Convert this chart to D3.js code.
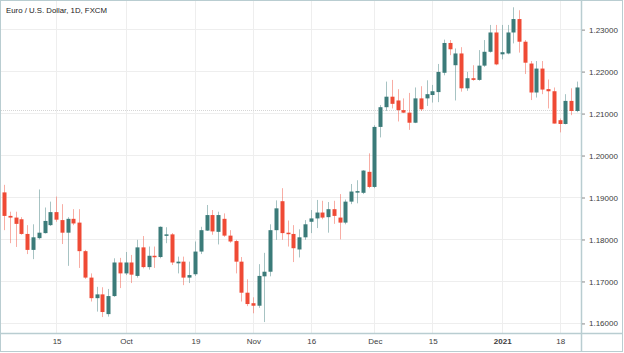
<!DOCTYPE html>
<html>
<head>
<meta charset="utf-8">
<script src="https://cdn.jsdelivr.net/npm/d3@7"></script>
<style>
  body { margin: 0; background: #fff; }
  svg { display: block; font-family: "Liberation Sans", Arial, sans-serif; }
  .axis text { fill: #3c3c3c; font-size: 8px; }
  .axis .domain { display: none; }
</style>
</head>
<body>
<div id="chart"></div>
<script>
// data: EUR/USD daily candles (FXCM)
const dates = [
  '2020-09-02', '2020-09-03', '2020-09-04', '2020-09-07', '2020-09-08', '2020-09-09', '2020-09-10', '2020-09-11',
  '2020-09-14', '2020-09-15', '2020-09-16', '2020-09-17', '2020-09-18', '2020-09-21', '2020-09-22', '2020-09-23',
  '2020-09-24', '2020-09-25', '2020-09-28', '2020-09-29', '2020-09-30',
  '2020-10-01', '2020-10-02', '2020-10-05', '2020-10-06', '2020-10-07', '2020-10-08', '2020-10-09', '2020-10-12',
  '2020-10-13', '2020-10-14', '2020-10-15', '2020-10-16', '2020-10-19', '2020-10-20', '2020-10-21', '2020-10-22',
  '2020-10-23', '2020-10-26', '2020-10-27', '2020-10-28', '2020-10-29', '2020-10-30',
  '2020-11-02', '2020-11-03', '2020-11-04', '2020-11-05', '2020-11-06', '2020-11-09', '2020-11-10', '2020-11-11',
  '2020-11-12', '2020-11-13', '2020-11-16', '2020-11-17', '2020-11-18', '2020-11-19', '2020-11-20', '2020-11-23',
  '2020-11-24', '2020-11-25', '2020-11-26', '2020-11-27', '2020-11-30',
  '2020-12-01', '2020-12-02', '2020-12-03', '2020-12-04', '2020-12-07', '2020-12-08', '2020-12-09', '2020-12-10',
  '2020-12-11', '2020-12-14', '2020-12-15', '2020-12-16', '2020-12-17', '2020-12-18', '2020-12-21', '2020-12-22',
  '2020-12-23', '2020-12-24', '2020-12-28', '2020-12-29', '2020-12-30', '2020-12-31',
  '2021-01-04', '2021-01-05', '2021-01-06', '2021-01-07', '2021-01-08', '2021-01-11', '2021-01-12', '2021-01-13',
  '2021-01-14', '2021-01-15', '2021-01-18', '2021-01-19', '2021-01-20', '2021-01-21'
];

const open = [
  1.1911, 1.1855, 1.1851, 1.1847, 1.1812, 1.1774, 1.1802, 1.1814, 1.1833, 1.1864, 1.1845, 1.1815, 1.1848, 1.1839,
  1.1771, 1.1708, 1.1659, 1.1668, 1.1621, 1.1664, 1.1744,
  1.1718, 1.1744, 1.1712, 1.1780, 1.1733, 1.1760, 1.1757, 1.1808, 1.1811, 1.1742, 1.1746, 1.1708, 1.1716, 1.1770,
  1.1820, 1.1857, 1.1817, 1.1848, 1.1808, 1.1795, 1.1746, 1.1672,
  1.1647, 1.1641, 1.1711, 1.1722, 1.1821, 1.1890, 1.1815, 1.1812, 1.1775, 1.1804, 1.1841, 1.1849, 1.1863, 1.1852,
  1.1871, 1.1851, 1.1839, 1.1889, 1.1911, 1.1910, 1.1960,
  1.1924, 1.2067, 1.2114, 1.2139, 1.2130, 1.2107, 1.2101, 1.2077, 1.2135, 1.2135, 1.2143, 1.2150, 1.2196, 1.2267,
  1.2214, 1.2242, 1.2159, 1.2183, 1.2179, 1.2213, 1.2246, 1.2292,
  1.2240, 1.2242, 1.2292, 1.2324, 1.2270, 1.2218, 1.2149, 1.2206, 1.2157, 1.2152, 1.2083, 1.2074, 1.2129, 1.2105
];

const high = [
  1.1929, 1.1865, 1.1865, 1.1852, 1.1833, 1.1835, 1.1918, 1.1875, 1.1889, 1.1901, 1.1883, 1.1852, 1.1871, 1.1871,
  1.1774, 1.1718, 1.1686, 1.1685, 1.1681, 1.1754, 1.1755,
  1.1769, 1.1762, 1.1798, 1.1807, 1.1782, 1.1782, 1.1830, 1.1828, 1.1814, 1.1758, 1.1758, 1.1746, 1.1794, 1.1829,
  1.1881, 1.1869, 1.1865, 1.1861, 1.1821, 1.1798, 1.1757, 1.1704,
  1.1661, 1.1740, 1.1767, 1.1835, 1.1892, 1.1921, 1.1844, 1.1833, 1.1823, 1.1845, 1.1869, 1.1893, 1.1891, 1.1888,
  1.1891, 1.1907, 1.1894, 1.1931, 1.1940, 1.1964, 1.2004,
  1.2071, 1.2119, 1.2175, 1.2179, 1.2157, 1.2135, 1.2148, 1.2161, 1.2164, 1.2178, 1.2167, 1.2217, 1.2275, 1.2274,
  1.2254, 1.2257, 1.2198, 1.2214, 1.2250, 1.2274, 1.2310, 1.2310,
  1.2310, 1.2310, 1.2352, 1.2345, 1.2274, 1.2224, 1.2224, 1.2224, 1.2180, 1.2161, 1.2087, 1.2145, 1.2159, 1.2175
];

const low = [
  1.1821, 1.1790, 1.1781, 1.1810, 1.1764, 1.1752, 1.1799, 1.1813, 1.1831, 1.1841, 1.1788, 1.1736, 1.1833, 1.1731,
  1.1705, 1.1651, 1.1627, 1.1614, 1.1615, 1.1662, 1.1683,
  1.1714, 1.1695, 1.1708, 1.1730, 1.1727, 1.1731, 1.1754, 1.1790, 1.1738, 1.1718, 1.1690, 1.1695, 1.1712, 1.1764,
  1.1819, 1.1810, 1.1787, 1.1805, 1.1791, 1.1718, 1.1651, 1.1640,
  1.1623, 1.1636, 1.1602, 1.1711, 1.1798, 1.1798, 1.1782, 1.1745, 1.1756, 1.1798, 1.1814, 1.1826, 1.1847, 1.1815,
  1.1836, 1.1799, 1.1835, 1.1883, 1.1885, 1.1907, 1.1921,
  1.1921, 1.2042, 1.2105, 1.2111, 1.2080, 1.2100, 1.2060, 1.2076, 1.2105, 1.2117, 1.2125, 1.2126, 1.2190, 1.2238,
  1.2130, 1.2151, 1.2153, 1.2177, 1.2177, 1.2210, 1.2244, 1.2214,
  1.2228, 1.2240, 1.2266, 1.2244, 1.2193, 1.2131, 1.2137, 1.2145, 1.2111, 1.2075, 1.2054, 1.2073, 1.2095, 1.2102
];

const close = [
  1.1855, 1.1851, 1.1836, 1.1812, 1.1774, 1.1804, 1.1815, 1.1843, 1.1864, 1.1846, 1.1815, 1.1848, 1.1837, 1.1771,
  1.1708, 1.1659, 1.1668, 1.1626, 1.1664, 1.1744, 1.1718,
  1.1744, 1.1715, 1.1780, 1.1733, 1.1760, 1.1757, 1.1829, 1.1811, 1.1744, 1.1746, 1.1708, 1.1714, 1.1770, 1.1821,
  1.1857, 1.1818, 1.1857, 1.1808, 1.1794, 1.1746, 1.1672, 1.1645,
  1.1641, 1.1712, 1.1722, 1.1821, 1.1873, 1.1814, 1.1812, 1.1778, 1.1804, 1.1835, 1.1849, 1.1863, 1.1851, 1.1871,
  1.1855, 1.1839, 1.1889, 1.1913, 1.1914, 1.1963, 1.1924,
  1.2067, 1.2114, 1.2139, 1.2122, 1.2107, 1.2101, 1.2077, 1.2135, 1.2109, 1.2145, 1.2152, 1.2198, 1.2267, 1.2252,
  1.2242, 1.2159, 1.2183, 1.2179, 1.2213, 1.2246, 1.2292, 1.2216,
  1.2245, 1.2292, 1.2324, 1.2270, 1.2220, 1.2149, 1.2206, 1.2156, 1.2152, 1.2075, 1.2074, 1.2129, 1.2105, 1.2161
];

const priceTicks = [1.16, 1.17, 1.18, 1.19, 1.20, 1.21, 1.22, 1.23];
const timeTickDates = ['2020-09-15', '2020-10-01', '2020-10-19', '2020-11-02', '2020-11-16', '2020-12-01', '2020-12-15', '2021-01-04', '2021-01-18'];
const timeTickLabels = ['15', 'Oct', '19', 'Nov', '16', 'Dec', '15', '2021', '18'];
const title = 'Euro / U.S. Dollar, 1D, FXCM';
const prevCloseLevel = 1.2107;

// layout
const w = 624, h = 353;
const plot = { left: 1, top: 1, right: 581, bottom: 333 };
const colors = { up: '#3b7b79', down: '#ef4a35', grid: '#eeeeee', frame: '#b9cdd1' };

const candles = dates.map((d, i) => ({
  date: d, o: open[i], h: high[i], l: low[i], c: close[i]
}));

const svg = d3.select('#chart').append('svg')
  .attr('width', w)
  .attr('height', h);

const x = d3.scalePoint()
  .domain(dates)
  .range([4, 577]);

const y = d3.scaleLinear()
  .domain([1.1576, 1.2367])
  .range([plot.bottom, plot.top]);

const px = d => Math.round(x(d));

// grid
const grid = svg.append('g').attr('class', 'grid');
grid.selectAll('.hgrid')
  .data(priceTicks)
  .enter()
  .append('line')
  .attr('x1', plot.left)
  .attr('x2', plot.right)
  .attr('y1', d => Math.round(y(d)) + 0.5)
  .attr('y2', d => Math.round(y(d)) + 0.5)
  .style('stroke', colors.grid);

grid.selectAll('.vgrid')
  .data(timeTickDates)
  .enter()
  .append('line')
  .attr('x1', d => px(d) + 0.5)
  .attr('x2', d => px(d) + 0.5)
  .attr('y1', plot.top)
  .attr('y2', plot.bottom)
  .style('stroke', colors.grid);

// previous close marker line (dotted, faint)
svg.append('line')
  .attr('x1', plot.left)
  .attr('x2', plot.right)
  .attr('y1', Math.round(y(prevCloseLevel)) + 0.5)
  .attr('y2', Math.round(y(prevCloseLevel)) + 0.5)
  .style('stroke', '#d6d6d6')
  .style('stroke-dasharray', '1,1');

// candles
const series = svg.append('g').attr('class', 'candles');
const candle = series.selectAll('.candle')
  .data(candles)
  .enter()
  .append('g')
  .attr('class', 'candle');

candle.append('line')
  .attr('x1', d => px(d.date) + 0.5)
  .attr('x2', d => px(d.date) + 0.5)
  .attr('y1', d => y(d.h))
  .attr('y2', d => y(d.l))
  .style('stroke', d => d.c >= d.o ? colors.up : colors.down)
  .style('stroke-opacity', 0.45);

candle.append('rect')
  .attr('x', d => px(d.date) - 1.5)
  .attr('width', 4)
  .attr('y', d => y(Math.max(d.o, d.c)))
  .attr('height', d => Math.max(1.5, Math.abs(y(d.o) - y(d.c))))
  .style('fill', d => d.c >= d.o ? colors.up : colors.down);

// frame and axis lines
svg.append('rect')
  .attr('x', 0.5)
  .attr('y', 0.5)
  .attr('width', w - 2)
  .attr('height', h - 2)
  .style('fill', 'none')
  .style('stroke', colors.frame);

svg.append('line')
  .attr('x1', plot.right + 0.5)
  .attr('x2', plot.right + 0.5)
  .attr('y1', 0)
  .attr('y2', h - 1)
  .style('stroke', colors.frame)
  .style('stroke-width', 1.5);

svg.append('line')
  .attr('x1', 0)
  .attr('x2', w - 1)
  .attr('y1', plot.bottom + 0.5)
  .attr('y2', plot.bottom + 0.5)
  .style('stroke', colors.frame)
  .style('stroke-width', 1.5);

// price axis
const yAxis = d3.axisRight(y)
  .tickValues(priceTicks)
  .tickFormat(d3.format('.5f'))
  .tickSize(3)
  .tickPadding(4);

svg.append('g')
  .attr('class', 'y axis')
  .attr('transform', `translate(${plot.right + 1}, 0.5)`)
  .call(yAxis)
  .call(g => g.selectAll('.tick line').style('stroke', '#8a8a8a'));

// time axis
const xAxis = d3.axisBottom(x)
  .tickValues(timeTickDates)
  .tickFormat((d, i) => timeTickLabels[i])
  .tickSize(0)
  .tickPadding(5);

svg.append('g')
  .attr('class', 'x axis')
  .attr('transform', `translate(0.5, ${plot.bottom})`)
  .call(xAxis)
  .call(g => g.selectAll('text')
    .style('font-weight', (d, i) => timeTickLabels[i] === '2021' ? 'bold' : 'normal'));

// title
svg.append('text')
  .attr('x', 6)
  .attr('y', 13)
  .style('font-size', '7.8px')
  .style('fill', '#222')
  .text(title);
</script>
</body>
</html>
